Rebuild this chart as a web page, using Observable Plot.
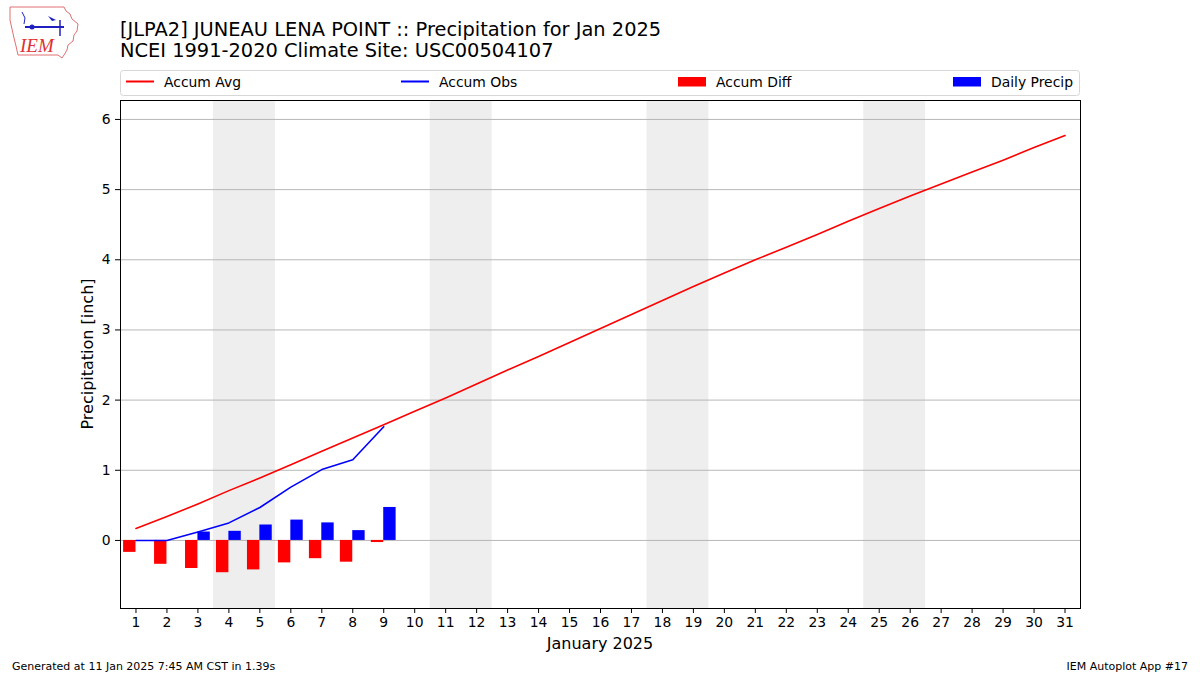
<!DOCTYPE html>
<html>
<head>
<meta charset="utf-8">
<script src="https://cdn.jsdelivr.net/npm/d3@7"></script>
<script src="https://cdn.jsdelivr.net/npm/@observablehq/plot@0.6"></script>
<style>
  html, body { margin: 0; padding: 0; background: #fff; }
  #wrap { position: relative; width: 1200px; height: 675px; overflow: hidden; font-family: "DejaVu Sans", sans-serif; }
  #wrap > svg { position: absolute; left: 0; top: 0; }
</style>
</head>
<body>
<div id="wrap"></div>
<script>
// ---- data ----
const days = d3.range(1, 32);
const accumAvg = [0.17, 0.34, 0.52, 0.71, 0.89, 1.08, 1.27, 1.46, 1.65, 1.84,
  2.03, 2.23, 2.43, 2.62, 2.82, 3.02, 3.22, 3.42, 3.62, 3.81,
  4.00, 4.18, 4.36, 4.55, 4.73, 4.91, 5.08, 5.25, 5.42, 5.60, 5.77];
const obsDays = [1, 2, 3, 4, 5, 6, 7, 8, 9];
const accumObs = [0.00, 0.00, 0.12, 0.25, 0.47, 0.76, 1.01, 1.15, 1.62];
const dailyPrecip = [0.00, 0.00, 0.12, 0.13, 0.22, 0.29, 0.25, 0.14, 0.47];
const accumDiff = [-0.17, -0.34, -0.40, -0.46, -0.42, -0.32, -0.26, -0.31, -0.03];
const weekendStarts = [4, 11, 18, 25];
const yTicks = [0, 1, 2, 3, 4, 5, 6];
const titleLines = ["[JLPA2] JUNEAU LENA POINT :: Precipitation for Jan 2025", "NCEI 1991-2020 Climate Site: USC00504107"];
const legendItems = [
  {label: "Accum Avg", kind: "line", color: "#ff0000"},
  {label: "Accum Obs", kind: "line", color: "#0000ff"},
  {label: "Accum Diff", kind: "patch", color: "#ff0000"},
  {label: "Daily Precip", kind: "patch", color: "#0000ff"}
];
const xLabel = "January 2025";
const yLabel = "Precipitation [inch]";
const footLeft = "Generated at 11 Jan 2025 7:45 AM CST in 1.39s";
const footRight = "IEM Autoplot App #17";

const avgData = days.map((d, i) => ({day: d, v: accumAvg[i]}));
const obsData = obsDays.map((d, i) => ({day: d, obs: accumObs[i], precip: dailyPrecip[i], diff: accumDiff[i]}));

const font = "DejaVu Sans, sans-serif";

const plot = Plot.plot({
  width: 1200,
  height: 675,
  marginLeft: 120,
  marginRight: 120,
  marginTop: 100,
  marginBottom: 67,
  style: {fontFamily: font, fontSize: "13.9px", color: "#000", background: "transparent", overflow: "visible"},
  x: {domain: [0.5, 31.5], label: null},
  y: {domain: [-0.97, 6.27], label: null},
  marks: [
    Plot.rect(weekendStarts, {x1: d => d - 0.5, x2: d => d + 1.5, fill: "#eeeeee"}),
    Plot.gridY(yTicks, {stroke: "#b0b0b0", strokeOpacity: 1, strokeWidth: 0.9}),
    Plot.rectY(obsData, {x1: d => d.day - 0.4, x2: d => d.day, y1: 0, y2: "diff", fill: "#ff0000"}),
    Plot.rectY(obsData, {x1: d => d.day, x2: d => d.day + 0.4, y1: 0, y2: "precip", fill: "#0000ff"}),
    Plot.line(avgData, {x: "day", y: "v", stroke: "#ff0000", strokeWidth: 1.6}),
    Plot.line(obsData, {x: "day", y: "obs", stroke: "#0000ff", strokeWidth: 1.6}),
    Plot.axisX(days, {tickSize: 5, tickPadding: 4, fontSize: "13.9px", label: null, tickFormat: d => String(d)}),
    Plot.axisY(yTicks, {tickSize: 5, tickPadding: 5, fontSize: "13.9px", label: null, tickFormat: d => String(d)}),
    Plot.frame({stroke: "#000", strokeWidth: 1})
  ]
});

const wrap = document.getElementById("wrap");
wrap.appendChild(plot);

// ---- overlay: titles, legend, labels, footer, logo ----
const ov = d3.select(wrap).append("svg")
  .attr("width", 1200).attr("height", 675)
  .style("font-family", font);

ov.selectAll("text.title").data(titleLines).join("text")
  .attr("x", 120).attr("y", (d, i) => 35.5 + i * 21.5)
  .attr("font-size", "19.4px").attr("fill", "#000").text(d => d);

// legend box
ov.append("rect").attr("x", 120.5).attr("y", 70.5).attr("width", 959).attr("height", 25)
  .attr("rx", 3).attr("fill", "#fff").attr("fill-opacity", 0.8).attr("stroke", "#d6d6d6");
const legX = [126, 401, 678, 953];
legendItems.forEach((it, i) => {
  const x = legX[i];
  if (it.kind === "line") {
    ov.append("line").attr("x1", x).attr("x2", x + 28).attr("y1", 81.5).attr("y2", 81.5)
      .attr("stroke", it.color).attr("stroke-width", 2);
  } else {
    ov.append("rect").attr("x", x).attr("y", 77).attr("width", 28).attr("height", 9.5).attr("fill", it.color);
  }
  ov.append("text").attr("x", x + 38).attr("y", 86.5).attr("font-size", "13.9px").text(it.label);
});

// axis labels
ov.append("text").attr("x", 600).attr("y", 649).attr("text-anchor", "middle").attr("font-size", "16px").text(xLabel);
ov.append("text").attr("transform", "translate(93,354) rotate(-90)").attr("text-anchor", "middle").attr("font-size", "16px").text(yLabel);

// footer
ov.append("text").attr("x", 12).attr("y", 670).attr("font-size", "11px").text(footLeft);
ov.append("text").attr("x", 1188).attr("y", 670).attr("text-anchor", "end").attr("font-size", "11px").text(footRight);

// logo (decorative)
const lg = ov.append("g");
lg.append("path")
  .attr("d", "M10,7 L64,7 L66,11 L70,14 L72,19 L78,24 L77,31 L74,35 L73,41 L68,45 L67,50 L64,55 L62,58 L58,55 L18,55 L16,46 L14,38 L12,29 L10,20 Z")
  .attr("fill", "none").attr("stroke", "#e07070").attr("stroke-width", 1);
lg.append("line").attr("x1", 25).attr("x2", 64).attr("y1", 27).attr("y2", 27).attr("stroke", "#2020c0").attr("stroke-width", 2);
lg.append("line").attr("x1", 60).attr("x2", 60).attr("y1", 20).attr("y2", 36).attr("stroke", "#2020c0").attr("stroke-width", 1.5);
lg.append("circle").attr("cx", 32).attr("cy", 27).attr("r", 2.5).attr("fill", "#2020c0");
lg.append("path").attr("d", "M48,16 L56,20 L52,21 Z").attr("fill", "#2020c0");
lg.append("path").attr("d", "M22,12 L25,18 L24,24").attr("fill", "none").attr("stroke", "#2020c0").attr("stroke-width", 1);
lg.append("text").attr("x", 20).attr("y", 52).attr("font-family", "Liberation Serif, serif").attr("font-style", "italic")
  .attr("font-size", "19px").attr("fill", "#e03030").text("IEM");
</script>
</body>
</html>
